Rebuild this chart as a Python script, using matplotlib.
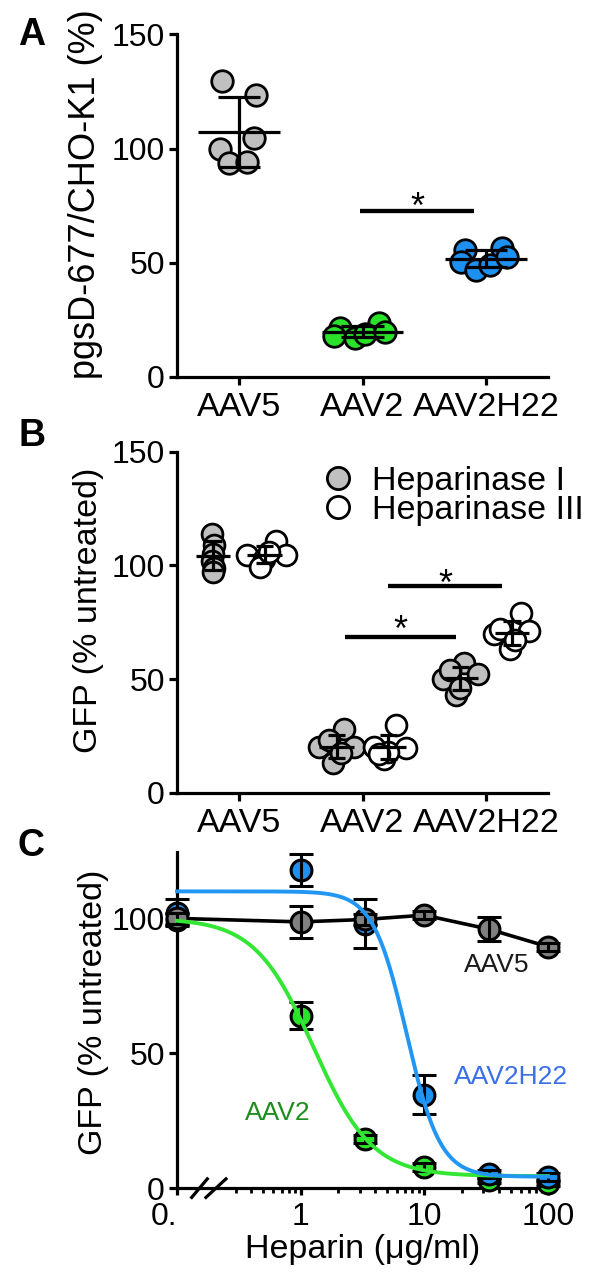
import numpy as np
import matplotlib
matplotlib.use('Agg')
import matplotlib.pyplot as plt
from matplotlib.lines import Line2D
from matplotlib.ticker import FixedLocator, NullFormatter

plt.rcParams['font.family'] = ['Liberation Sans', 'DejaVu Sans']

# ---------------- Panel A data ----------------
a_groups = ['AAV5', 'AAV2', 'AAV2H22']
a_aav5 = [129.4, 123.3, 104.5, 99.7, 93.5, 94.0]
a_aav2 = [21.5, 17.0, 23.5, 19.0, 19.5, 18.0]
a_aav2h22 = [55.5, 56.3, 50.4, 46.8, 49.0, 52.6]
a_jit_aav5 = [-0.14, 0.14, 0.12, -0.15, -0.08, 0.07]
a_jit_aav2 = [-0.18, -0.06, 0.13, 0.02, 0.18, -0.23]
a_jit_aav2h22 = [-0.17, 0.13, -0.20, -0.08, 0.03, 0.17]

# ---------------- Panel B data ----------------
b_groups = ['AAV5', 'AAV2', 'AAV2H22']
b_series = ['Heparinase I', 'Heparinase III']
b_hep1_aav5 = [114, 109, 105, 102, 99, 97]
b_hep3_aav5 = [104.6, 103, 110.5, 104.6, 99.5, 106]
b_hep1_aav2 = [28, 20, 13, 20, 23, 17.5]
b_hep3_aav2 = [20, 30, 19.5, 15, 18, 17]
b_hep1_aav2h22 = [50, 57, 52, 43, 54, 46]
b_hep3_aav2h22 = [79, 70, 71, 63, 72, 67]
b_jit_hep1_aav5 = [-0.01, 0.01, 0.0, -0.01, 0.01, 0.0]
b_jit_hep3_aav5 = [-0.14, -0.01, 0.09, 0.17, -0.04, 0.03]
b_jit_hep1_aav2 = [0.06, -0.14, -0.03, 0.14, -0.06, 0.04]
b_jit_hep3_aav2 = [-0.12, 0.06, 0.14, -0.04, 0.0, -0.08]
b_jit_hep1_aav2h22 = [-0.14, 0.03, 0.14, -0.03, -0.08, 0.0]
b_jit_hep3_aav2h22 = [0.07, -0.15, 0.14, -0.02, -0.10, 0.02]

# ---------------- Panel C data ----------------
c_conc = [0.1, 1, 3.33, 10, 33.3, 100]          # 0 ug/ml drawn at 0.1 (axis break)
c_xticks = [0.1, 1, 10, 100]
c_xticklabels = ['0.', '1', '10', '100']
c_aav5_mean = [100, 98.7, 99.6, 101.2, 96, 89.5]
c_aav5_sd = [2, 6, 2, 1.5, 4.5, 1.5]
c_aav2_mean = [99.5, 63.9, 18.1, 8, 3, 2]
c_aav2_sd = [2, 5, 1.5, 1.5, 1, 1]
c_aav2h22_mean = [102, 118, 98, 34.6, 5.3, 4.3]
c_aav2h22_sd = [5, 6, 9, 7.2, 1.5, 1.5]
# four-parameter logistic fits: top, bottom, EC50, Hill slope
c_aav2_fit = [100, 4.5, 1.27, 1.83]
c_aav2h22_fit = [110, 4.3, 7.2, 3.2]

GRAY_A = '#C0C0C0'
GREEN = '#2BE22B'
BLUE = '#1E90F0'
GRAY_C = '#808080'

W, H = 601, 1279
fig = plt.figure(figsize=(W / 100, H / 100), dpi=100)


def axes_px(left, top, right, bottom):
    return fig.add_axes([left / W, 1 - bottom / H, (right - left) / W, (bottom - top) / H])


def style(ax):
    for s in ['top', 'right']:
        ax.spines[s].set_visible(False)
    for s in ['left', 'bottom']:
        ax.spines[s].set_linewidth(2.3)
    ax.tick_params(width=2.3, length=5.8, labelsize=23, pad=3, color='black')
    ax.patch.set_alpha(0)


def star(ax, x, yc, size=26):
    ax.annotate('*', xy=(x, yc), xytext=(0, -0.58 * size), textcoords='offset points',
                ha='center', va='baseline', fontsize=size)


axA = axes_px(177, 34.3, 548, 377)
axB = axes_px(177, 451.7, 548, 792.7)
axC = axes_px(177, 851.7, 548, 1188.3)

MS = 15.5

# ---------------- Panel A ----------------
style(axA)
for i, (vals, jit, fc) in enumerate(zip([a_aav5, a_aav2, a_aav2h22],
                                         [a_jit_aav5, a_jit_aav2, a_jit_aav2h22],
                                         [GRAY_A, GREEN, BLUE])):
    x = i + np.array(jit)
    axA.plot(x, vals, 'o', ms=MS, mfc=fc, mec='black', mew=2.0, zorder=3, clip_on=False)
    m = np.mean(vals)
    sd = np.std(vals, ddof=1)
    axA.hlines(m, i - 0.33, i + 0.33, color='black', lw=2.3, zorder=4)
    axA.vlines(i, m - sd, m + sd, color='black', lw=2.3, zorder=4)
    axA.hlines([m - sd, m + sd], i - 0.17, i + 0.17, color='black', lw=2.3, zorder=4)
axA.plot([0.98, 1.9], [72.7, 72.7], color='black', lw=3.1, solid_capstyle='butt')
star(axA, 1.44, 78.8)
axA.set_xlim(-0.5, 2.5)
axA.set_ylim(0, 150)
axA.set_yticks([0, 50, 100, 150])
axA.set_xticks(range(len(a_groups)))
axA.set_xticklabels(a_groups, fontsize=24.5)
axA.tick_params(axis='x', pad=5)
axA.set_ylabel('pgsD-677/CHO-K1 (%)', fontsize=26)
axA.yaxis.set_label_coords(-0.20, 0.534)

# ---------------- Panel B ----------------
style(axB)
hep1 = [b_hep1_aav5, b_hep1_aav2, b_hep1_aav2h22]
hep3 = [b_hep3_aav5, b_hep3_aav2, b_hep3_aav2h22]
jit1 = [b_jit_hep1_aav5, b_jit_hep1_aav2, b_jit_hep1_aav2h22]
jit3 = [b_jit_hep3_aav5, b_jit_hep3_aav2, b_jit_hep3_aav2h22]
dodge = 0.21
for i in range(len(b_groups)):
    for vals, jit, fc, off in [(hep1[i], jit1[i], GRAY_A, -dodge), (hep3[i], jit3[i], 'white', dodge)]:
        cx = i + off
        axB.plot(cx + np.array(jit), vals, 'o', ms=15, mfc=fc, mec='black', mew=2.0,
                 zorder=3, clip_on=False)
        m = np.mean(vals)
        sd = np.std(vals, ddof=1)
        axB.hlines(m, cx - 0.14, cx + 0.14, color='black', lw=2.3, zorder=4)
        axB.vlines(cx, m - sd, m + sd, color='black', lw=2.3, zorder=4)
        axB.hlines([m - sd, m + sd], cx - 0.07, cx + 0.07, color='black', lw=2.3, zorder=4)
axB.plot([0.86, 1.76], [68.4, 68.4], color='black', lw=3.1, solid_capstyle='butt')
axB.plot([1.21, 2.13], [90.8, 90.8], color='black', lw=3.1, solid_capstyle='butt')
star(axB, 1.31, 76)
star(axB, 1.67, 96)
axB.set_xlim(-0.5, 2.5)
axB.set_ylim(0, 150)
axB.set_yticks([0, 50, 100, 150])
axB.set_xticks(range(len(b_groups)))
axB.set_xticklabels(b_groups, fontsize=24.5)
axB.tick_params(axis='x', pad=5)
axB.set_ylabel('GFP (% untreated)', fontsize=24.5)
axB.yaxis.set_label_coords(-0.197, 0.536)
handles = [Line2D([], [], marker='o', ls='none', ms=16, mfc=GRAY_A, mec='black', mew=2.0),
           Line2D([], [], marker='o', ls='none', ms=16, mfc='white', mec='black', mew=2.0)]
axB.legend(handles, b_series, loc='upper left', bbox_to_anchor=(0.389, 0.957),
           frameon=False, fontsize=24.5, handlelength=1.0, handletextpad=0.5,
           labelspacing=-0.08, borderpad=0, borderaxespad=0)

# ---------------- Panel C ----------------
style(axC)
axC.set_xscale('log')
xc = np.array(c_conc)


def logistic(x, p):
    top, bottom, ec50, hill = p
    return bottom + (top - bottom) / (1 + (x / ec50) ** hill)


def ebar(mean, sd, fc, z, line=False):
    cont = axC.errorbar(xc, mean, yerr=sd, fmt='o-' if line else 'o', color='black',
                        lw=2.6, ms=15, mfc=fc, mec='black', mew=2.2,
                        ecolor='black', elinewidth=2.2, capsize=8.6, capthick=2.2,
                        zorder=z)
    for art in [cont.lines[0]] + list(cont.lines[1]) + list(cont.lines[2]):
        art.set_clip_on(False)
        art.set_zorder(z)


ebar(c_aav2_mean, c_aav2_sd, GREEN, 3)
ebar(c_aav2h22_mean, c_aav2h22_sd, BLUE, 4)
ebar(c_aav5_mean, c_aav5_sd, GRAY_C, 5, line=True)

xfit = np.logspace(-1, 2, 400)
axC.plot(xfit, logistic(xfit, c_aav2_fit), color='#33E633', lw=2.8, zorder=6, clip_on=False)
axC.plot(xfit, logistic(xfit, c_aav2h22_fit), color='#2196F3', lw=2.8, zorder=6, clip_on=False)

axC.text(38.7, 82.7, 'AAV5', fontsize=19, color='#1a1a1a', ha='center', va='center')
axC.text(50.3, 41.3, 'AAV2H22', fontsize=19, color='#3B6FE6', ha='center', va='center')
axC.text(0.65, 27.8, 'AAV2', fontsize=19, color='#1E8C1E', ha='center', va='center')

axC.set_xlim(0.1, 100)
axC.set_ylim(0, 124.7)
axC.set_yticks([0, 50, 100])
axC.set_xticks(c_xticks)
axC.set_xticklabels(c_xticklabels, fontsize=23)
axC.xaxis.get_ticklabels()[0].set_horizontalalignment('right')
minor = [m * d for d in [0.1, 1, 10] for m in range(2, 10) if m * d >= 0.3]
axC.xaxis.set_minor_locator(FixedLocator(minor))
axC.xaxis.set_minor_formatter(NullFormatter())
axC.tick_params(axis='x', which='minor', length=3.6, width=2.0)
axC.tick_params(axis='x', which='major', length=5.2, pad=5)
axC.set_xlabel('Heparin (\u03bcg/ml)', fontsize=24.5, labelpad=1)
axC.set_ylabel('GFP (% untreated)', fontsize=24.5)
axC.yaxis.set_label_coords(-0.182, 0.522)
# axis-break marks
for x0, x1 in [(0.0396, 0.0817), (0.078, 0.132)]:
    axC.add_line(Line2D([x0, x1], [-0.027, 0.028], transform=axC.transAxes,
                        color='black', lw=2.3, clip_on=False))

# panel letters
for lab, (px, py) in zip(['A', 'B', 'C'], [(31.7, 35), (31.7, 436), (31, 846)]):
    fig.text(px / W, 1 - py / H, lab, fontsize=27, fontweight='bold', ha='center', va='center')

fig.savefig('out.png', dpi=100)
